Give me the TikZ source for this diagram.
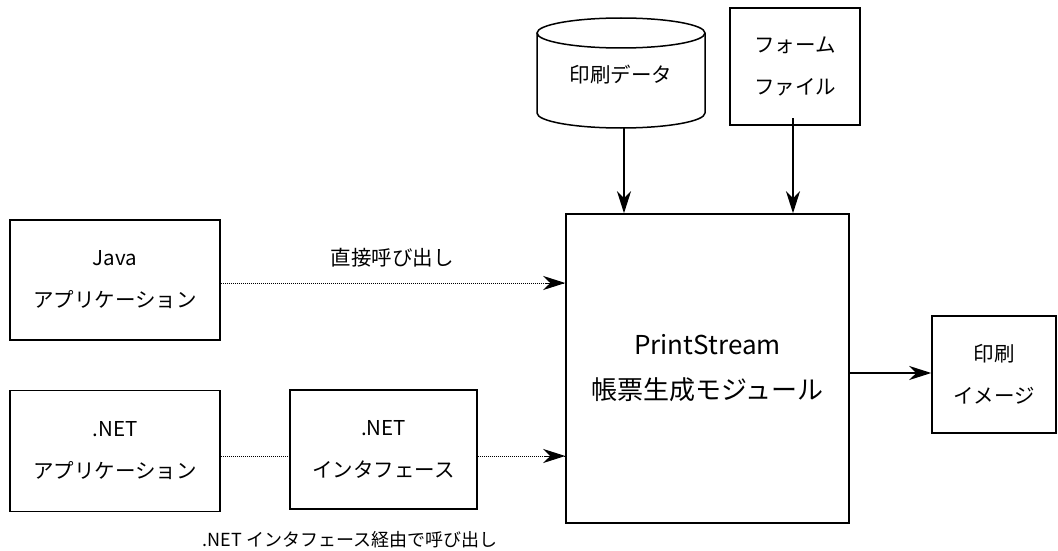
\documentclass[tikz,border=0pt]{standalone}
\usepackage{fontspec}
\setmainfont{Noto Sans CJK JP}
\usetikzlibrary{arrows.meta}
\tikzset{
  box/.style={draw, line width=1.5pt, rectangle, align=center, inner sep=0pt,
    font=\fontsize{20.5}{42}\selectfont},
  arr/.style={line width=1.2pt, -{Stealth[length=22pt,width=14pt,inset=7pt]}},
  dotline/.style={line width=1pt, dash pattern=on 1pt off 1pt},
  lbl/.style={font=\fontsize{20.5}{24}\selectfont, inner sep=0pt}
}
\begin{document}
\begin{tikzpicture}[x=1pt,y=-1pt]
\useasboundingbox (0,0) rectangle (1058,551);
% boxes
\node[box, minimum width=210pt, minimum height=120pt] (java) at (115,280) {Java\\アプリケーション};
\node[box, minimum width=210pt, minimum height=121pt] (netapp) at (115,451) {.NET\\アプリケーション};
\node[box, minimum width=187pt, minimum height=119pt] (netif) at (383.5,449.5) {.NET\\インタフェース};
\node[box, minimum width=283pt, minimum height=309pt, font=\fontsize{26}{45}\selectfont] (main) at (707.5,368.5) {PrintStream\\帳票生成モジュール};
\node[box, minimum width=130pt, minimum height=117pt] (form) at (795,66.5) {フォーム\\ファイル};
\node[box, minimum width=124pt, minimum height=117pt] (out) at (994,374.5) {印刷\\イメージ};
% cylinder
\draw[line width=1.5pt, fill=white] (537,33) -- (537,113) arc[start angle=180,end angle=360,x radius=84,y radius=-15] -- (705,33);
\draw[line width=1.5pt] (621,33) ellipse[x radius=84, y radius=15];
\node[lbl] (db) at (621,75) {印刷データ};
\coordinate (dbbot) at (624,128);
\coordinate (formbot) at (793,118);
\coordinate (javay) at (0,283);
\coordinate (nety) at (0,456);
% arrows
\draw[arr] (dbbot) -- (dbbot |- main.north);
\draw[arr] (formbot) -- (formbot |- main.north);
\draw[arr] (main.east |- 0,373) -- (out.west |- 0,373);
\draw[dotline] (java.east |- javay) -- (main.west |- javay);
\draw[arr, line width=1pt] ([xshift=-20pt]main.west |- javay) -- (main.west |- javay);
\draw[dotline] (netapp.east |- nety) -- (netif.west |- nety);
\draw[dotline] (netif.east |- nety) -- (main.west |- nety);
\draw[arr, line width=1pt] ([xshift=-20pt]main.west |- nety) -- (main.west |- nety);
% labels
\node[lbl] (l1) at (392,258) {直接呼び出し};
\node[lbl, font=\fontsize{18}{22}\selectfont] (l2) at (350,540) {.NET インタフェース経由で呼び出し};
\end{tikzpicture}
\end{document}
